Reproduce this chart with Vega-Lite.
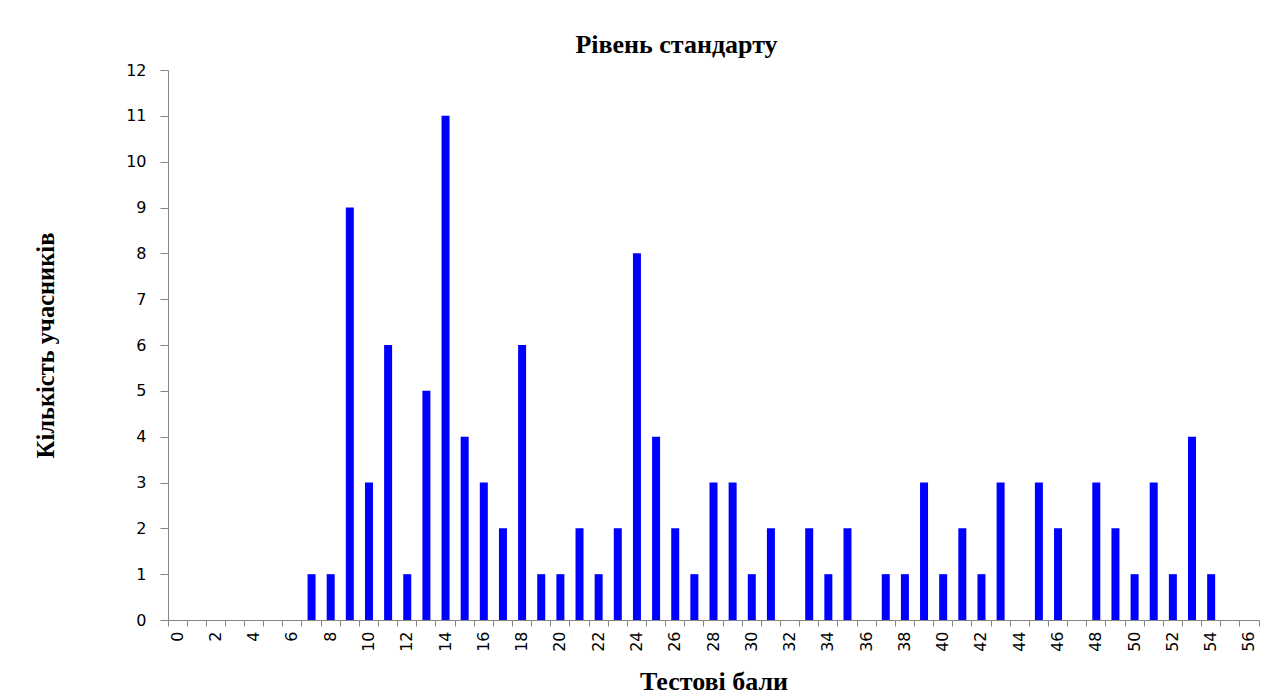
{
  "$schema": "https://vega.github.io/schema/vega-lite/v6.json",
  "width": 1091,
  "height": 550,
  "autosize": {"type": "none"},
  "padding": {"left": 168, "top": 70, "right": 23, "bottom": 75},
  "background": "white",
  "title": {
    "text": "Рівень стандарту",
    "font": "Liberation Serif",
    "fontSize": 26,
    "fontWeight": "bold",
    "color": "#000000",
    "anchor": "middle",
    "dx": -37,
    "offset": 4
  },
  "data": {
    "values": [
      {"score": 0, "count": 0}, {"score": 1, "count": 0}, {"score": 2, "count": 0}, {"score": 3, "count": 0},
      {"score": 4, "count": 0}, {"score": 5, "count": 0}, {"score": 6, "count": 0}, {"score": 7, "count": 1},
      {"score": 8, "count": 1}, {"score": 9, "count": 9}, {"score": 10, "count": 3}, {"score": 11, "count": 6},
      {"score": 12, "count": 1}, {"score": 13, "count": 5}, {"score": 14, "count": 11}, {"score": 15, "count": 4},
      {"score": 16, "count": 3}, {"score": 17, "count": 2}, {"score": 18, "count": 6}, {"score": 19, "count": 1},
      {"score": 20, "count": 1}, {"score": 21, "count": 2}, {"score": 22, "count": 1}, {"score": 23, "count": 2},
      {"score": 24, "count": 8}, {"score": 25, "count": 4}, {"score": 26, "count": 2}, {"score": 27, "count": 1},
      {"score": 28, "count": 3}, {"score": 29, "count": 3}, {"score": 30, "count": 1}, {"score": 31, "count": 2},
      {"score": 32, "count": 0}, {"score": 33, "count": 2}, {"score": 34, "count": 1}, {"score": 35, "count": 2},
      {"score": 36, "count": 0}, {"score": 37, "count": 1}, {"score": 38, "count": 1}, {"score": 39, "count": 3},
      {"score": 40, "count": 1}, {"score": 41, "count": 2}, {"score": 42, "count": 1}, {"score": 43, "count": 3},
      {"score": 44, "count": 0}, {"score": 45, "count": 3}, {"score": 46, "count": 2}, {"score": 47, "count": 0},
      {"score": 48, "count": 3}, {"score": 49, "count": 2}, {"score": 50, "count": 1}, {"score": 51, "count": 3},
      {"score": 52, "count": 1}, {"score": 53, "count": 4}, {"score": 54, "count": 1}, {"score": 55, "count": 0},
      {"score": 56, "count": 0}
    ]
  },
  "mark": {"type": "bar", "color": "#0000FF", "size": 8},
  "encoding": {
    "x": {
      "field": "score",
      "type": "ordinal",
      "sort": "ascending",
      "scale": {"paddingInner": 0, "paddingOuter": 0},
      "axis": {
        "title": "Тестові бали",
        "titleFont": "Liberation Serif",
        "titleFontSize": 26,
        "titleFontWeight": "bold",
        "titleColor": "#000000",
        "titlePadding": 17,
        "labelAngle": -90,
        "labelAlign": "right",
        "labelBaseline": "middle",
        "labelFont": "DejaVu Sans",
        "labelFontSize": 16,
        "labelColor": "#000000",
        "labelPadding": 5,
        "labelExpr": "datum.value % 2 == 0 ? datum.label : ''",
        "labelOverlap": false,
        "bandPosition": 1,
        "tickExtra": true,
        "tickSize": 6,
        "tickColor": "#868686",
        "domainColor": "#868686",
        "grid": false
      }
    },
    "y": {
      "field": "count",
      "type": "quantitative",
      "scale": {"domain": [0, 12], "nice": false},
      "axis": {
        "title": "Кількість учасників",
        "titleFont": "Liberation Serif",
        "titleFontSize": 24.5,
        "titleFontWeight": "bold",
        "titleColor": "#000000",
        "titlePadding": 67,
        "values": [0, 1, 2, 3, 4, 5, 6, 7, 8, 9, 10, 11, 12],
        "labelFont": "DejaVu Sans",
        "labelFontSize": 16,
        "labelColor": "#000000",
        "labelPadding": 14,
        "tickSize": 8,
        "tickColor": "#868686",
        "domainColor": "#868686",
        "grid": false
      }
    }
  },
  "config": {"view": {"stroke": null}}
}
